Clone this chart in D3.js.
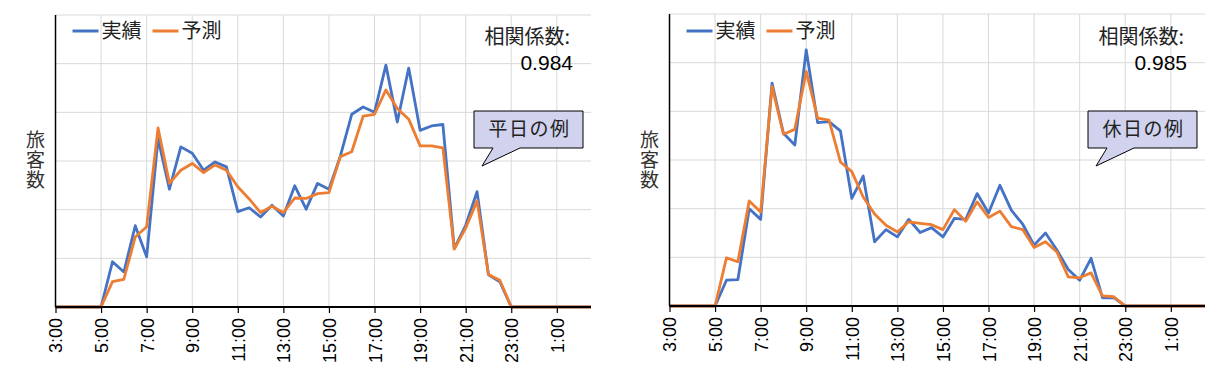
<!DOCTYPE html>
<html>
<head>
<meta charset="utf-8">
<script src="https://cdn.jsdelivr.net/npm/d3@7"></script>
<style>
  body { margin: 0; background: #fff; }
  svg { display: block; }
</style>
</head>
<body>
<svg width="1219" height="378"></svg>
<script>
"use strict"

// 30分刻みの時間帯 (3:00 〜 翌2:30)
const times = ["3:00","3:30","4:00","4:30","5:00","5:30","6:00","6:30","7:00","7:30",
    "8:00","8:30","9:00","9:30","10:00","10:30","11:00","11:30","12:00","12:30",
    "13:00","13:30","14:00","14:30","15:00","15:30","16:00","16:30","17:00","17:30",
    "18:00","18:30","19:00","19:30","20:00","20:30","21:00","21:30","22:00","22:30",
    "23:00","23:30","0:00","0:30","1:00","1:30","2:00","2:30"]

// 目盛ラベル (2時間ごと)
const tickLabels = ["3:00","5:00","7:00","9:00","11:00","13:00","15:00","17:00","19:00","21:00","23:00","1:00"]

// 平日
const weekdayActual = [0,0,0,0,0,0.93,0.72,1.67,1.03,3.46,
    2.42,3.29,3.16,2.81,2.98,2.88,1.96,2.04,1.85,2.09,
    1.87,2.49,2.01,2.54,2.42,3.10,3.96,4.11,4.00,4.97,
    3.80,4.91,3.63,3.72,3.75,1.20,1.68,2.37,0.66,0.52,
    0,0,0,0,0,0,0,0]
const weekdayForecast = [0,0,0,0,0,0.52,0.57,1.44,1.65,3.68,
    2.54,2.81,2.95,2.76,2.92,2.81,2.47,2.22,1.94,2.07,
    1.94,2.24,2.23,2.33,2.35,3.09,3.19,3.92,3.96,4.46,
    4.08,3.86,3.31,3.31,3.27,1.19,1.62,2.18,0.67,0.55,
    0,0,0,0,0,0,0,0]

// 休日
const holidayActual = [0,0,0,0,0,0.53,0.54,2.00,1.78,4.58,
    3.55,3.31,5.26,3.77,3.79,3.60,2.21,2.67,1.32,1.57,
    1.42,1.78,1.51,1.61,1.42,1.80,1.78,2.31,1.91,2.48,
    1.97,1.68,1.25,1.50,1.15,0.75,0.53,0.98,0.17,0.17,
    0,0,0,0,0,0,0,0]
const holidayForecast = [0,0,0,0,0,0.99,0.91,2.16,1.93,4.51,
    3.53,3.63,4.82,3.86,3.82,2.96,2.76,2.24,1.89,1.66,
    1.52,1.73,1.70,1.67,1.57,1.98,1.74,2.14,1.82,1.95,
    1.63,1.57,1.20,1.32,1.11,0.60,0.58,0.68,0.21,0.19,
    0,0,0,0,0,0,0,0]

const seriesNames = ["実績", "予測"]
const seriesColors = ["#4472C4", "#ED7D31"]
const yGridValues = [0, 1, 2, 3, 4, 5, 6]

const panels = [
    { left: 55.5, right: 591, top: 15, bottom: 307,
      actual: weekdayActual, forecast: weekdayForecast,
      corr: "0.984", note: "平日の例" },
    { left: 669.5, right: 1205, top: 14, bottom: 306,
      actual: holidayActual, forecast: holidayForecast,
      corr: "0.985", note: "休日の例" }
]

const jpFont = "'Noto Sans CJK JP', 'Noto Sans', sans-serif"
const numFont = "'Liberation Sans', Arial, sans-serif"

const svg = d3.select("svg")

panels.forEach(p => drawPanel(svg, p))

function drawPanel(svg, p) {
    const g = svg.append("g")

    const scaleX = d3.scaleLinear()
        .domain([0, times.length - 1])
        .range([p.left, p.right])
    const scaleY = d3.scaleLinear()
        .domain([0, 6])
        .range([p.bottom, p.top])

    const tickIdx = tickLabels.map(t => times.indexOf(t))

    // 補助線
    g.selectAll(".hgrid")
        .data(yGridValues.slice(1))
        .enter()
        .append("line")
        .attr("x1", p.left)
        .attr("x2", p.right)
        .attr("y1", d => scaleY(d))
        .attr("y2", d => scaleY(d))
        .style("stroke", "#d9d9d9")
        .style("stroke-width", 1)

    g.selectAll(".vgrid")
        .data(tickIdx.slice(1))
        .enter()
        .append("line")
        .attr("x1", d => scaleX(d))
        .attr("x2", d => scaleX(d))
        .attr("y1", p.top)
        .attr("y2", p.bottom)
        .style("stroke", "#d9d9d9")
        .style("stroke-width", 1)

    // 折れ線
    const lineF = d3.line()
        .x((d, i) => scaleX(i))
        .y(d => scaleY(d))

    ;[p.actual, p.forecast].forEach((arr, k) => {
        g.append("path")
            .datum(arr)
            .attr("d", lineF)
            .style("fill", "none")
            .style("stroke", seriesColors[k])
            .style("stroke-width", 2.8)
            .style("stroke-linejoin", "round")
    })

    // 軸
    const axisX = d3.axisBottom(scaleX)
        .tickValues(tickIdx)
        .tickFormat(i => times[i])
        .tickSize(6)
        .tickSizeOuter(0)

    const ax = g.append("g")
        .attr("transform", `translate(0, ${p.bottom})`)
        .call(axisX)
    ax.select(".domain")
        .attr("d", `M${p.left},0H${p.right}`)
        .style("stroke", "#000")
        .style("stroke-width", 2)
    ax.selectAll(".tick line")
        .style("stroke", "#000")
        .style("stroke-width", 1.2)
    ax.selectAll(".tick text")
        .attr("transform", "rotate(-90)")
        .attr("x", -11)
        .attr("y", 0)
        .attr("dy", "0.36em")
        .style("text-anchor", "end")
        .style("font-family", numFont)
        .style("font-size", "18px")
        .style("fill", "#000")

    g.append("line")
        .attr("x1", p.left)
        .attr("x2", p.left)
        .attr("y1", p.top)
        .attr("y2", p.bottom)
        .style("stroke", "#000")
        .style("stroke-width", 1.5)

    // 縦書きの軸ラベル
    g.append("text")
        .attr("x", p.left - 20)
        .attr("y", 160)
        .style("writing-mode", "vertical-rl")
        .style("text-anchor", "middle")
        .style("letter-spacing", "1px")
        .style("font-family", jpFont)
        .style("font-size", "19px")
        .style("fill", "#333")
        .text("旅客数")

    // 凡例
    const legend = g.selectAll(".legend-item")
        .data(seriesNames)
        .enter()
        .append("g")
        .attr("transform", (d, i) => `translate(${p.left + 17 + i * 80}, 31)`)
    legend.append("line")
        .attr("x1", 0)
        .attr("x2", 26)
        .style("stroke", (d, i) => seriesColors[i])
        .style("stroke-width", 3)
    legend.append("text")
        .attr("x", 29)
        .attr("dy", "0.36em")
        .style("font-family", jpFont)
        .style("font-size", "20px")
        .style("fill", "#222")
        .text(d => d)

    // 相関係数
    g.append("text")
        .attr("x", p.right - 21)
        .attr("y", 44)
        .style("text-anchor", "end")
        .style("font-family", jpFont)
        .style("font-size", "20px")
        .style("fill", "#222")
        .text("相関係数:")
    g.append("text")
        .attr("x", p.right - 18)
        .attr("y", 70)
        .style("text-anchor", "end")
        .style("font-family", numFont)
        .style("font-size", "21px")
        .style("fill", "#000")
        .text(p.corr)

    // 吹き出し
    const bx = p.right - 117, by = 111, bw = 109, bh = 37
    const callout = d3.path()
    callout.moveTo(bx, by)
    callout.lineTo(bx + bw, by)
    callout.lineTo(bx + bw, by + bh)
    callout.lineTo(bx + 46, by + bh)
    callout.lineTo(bx + 8, by + 55)
    callout.lineTo(bx + 19, by + bh)
    callout.lineTo(bx, by + bh)
    callout.closePath()
    g.append("path")
        .attr("d", callout.toString())
        .style("fill", "#D0D2EE")
        .style("stroke", "#000")
        .style("stroke-width", 1)
    g.append("text")
        .attr("x", bx + bw / 2 + 1)
        .attr("y", by + bh / 2)
        .attr("dy", "0.36em")
        .style("text-anchor", "middle")
        .style("font-family", jpFont)
        .style("font-size", "19px")
        .style("letter-spacing", "1.5px")
        .style("fill", "#222")
        .text(p.note)
}
</script>
</body>
</html>
